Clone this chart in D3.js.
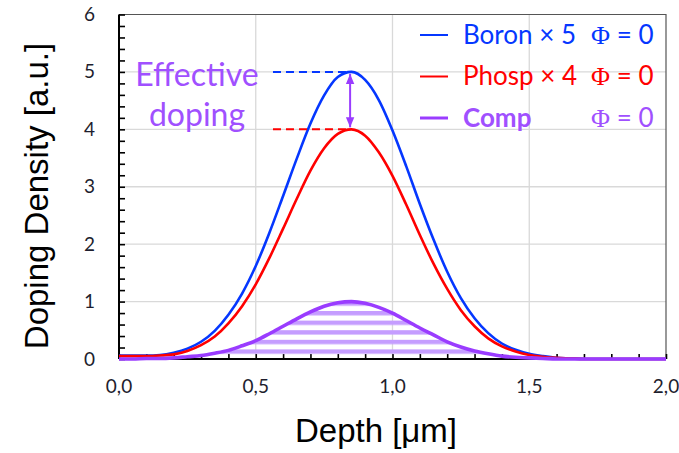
<!DOCTYPE html>
<html>
<head>
<meta charset="utf-8">
<script src="https://cdn.jsdelivr.net/npm/d3@7"></script>
<style>
body{margin:0;background:#fff}
svg{display:block}
</style>
</head>
<body>
<svg></svg>
<script>
let depth = [0.00,0.05,0.10,0.15,0.20,0.25,0.30,0.35,0.40,0.45,0.50,0.55,0.60,0.65,0.70,0.75,0.80,0.85,0.90,0.95,
             1.00,1.05,1.10,1.15,1.20,1.25,1.30,1.35,1.40,1.45,1.50,1.55,1.60,1.65,1.70,1.75,1.80,1.85,1.90,1.95,2.00];
let boron = [0.06,0.06,0.06,0.07,0.11,0.18,0.30,0.49,0.77,1.14,1.62,2.20,2.84,3.49,4.10,4.59,4.91,5.00,4.86,4.51,
             3.98,3.36,2.70,2.08,1.52,1.06,0.71,0.45,0.27,0.16,0.09,0.05,0.02,0.01,0,0,0,0,0,0,0];
let phosp = [0.05,0.05,0.05,0.06,0.08,0.14,0.24,0.39,0.62,0.92,1.30,1.76,2.27,2.79,3.28,3.67,3.92,4.00,3.89,3.60,
             3.19,2.69,2.16,1.66,1.22,0.85,0.57,0.36,0.22,0.13,0.07,0.04,0.02,0.01,0,0,0,0,0,0,0];
let comp  = [0.00,0.00,0.01,0.01,0.02,0.04,0.06,0.10,0.15,0.23,0.32,0.44,0.57,0.70,0.82,0.92,0.98,1.00,0.97,0.90,
             0.80,0.67,0.54,0.42,0.30,0.21,0.14,0.09,0.05,0.03,0.02,0.01,0,0,0,0,0,0,0,0,0];
let xTicks = [0,0.5,1,1.5,2];
let yTicks = [0,1,2,3,4,5,6];
let peakX = 0.845;
let dashStart = 0.563;

let width = 679;
let height = 453;
let plotL = 119, plotR = 666, plotT = 14.5, plotB = 359;
let blue = "#0537ff", red = "#ff0000", purple = "#9a3cff";
let svg = d3.select("svg").attr("width",width).attr("height",height);

let xScale = d3.scaleLinear().domain([0,2]).range([plotL,plotR]);
let yScale = d3.scaleLinear().domain([0,6]).range([plotB,plotT]);

// hatch pattern for the compensated area
let defs = svg.append("defs");
let pat = defs.append("pattern")
    .attr("id","hatch")
    .attr("patternUnits","userSpaceOnUse")
    .attr("x",0).attr("y",3.8)
    .attr("width",10).attr("height",9.6);
pat.append("rect").attr("width",10).attr("height",4.4).attr("fill","#c59dff");

defs.append("marker").attr("id","arrow")
    .attr("viewBox","0 0 10 10").attr("refX",10).attr("refY",5)
    .attr("markerWidth",10).attr("markerHeight",10)
    .attr("markerUnits","userSpaceOnUse")
    .attr("orient","auto-start-reverse")
    .append("path").attr("d","M0,0.8 L10,5 L0,9.2 Z").attr("fill",purple);

// grid
svg.append("g").selectAll("line").data(yTicks.slice(1,6)).join("line")
    .attr("x1",plotL).attr("x2",plotR)
    .attr("y1",d=>yScale(d)).attr("y2",d=>yScale(d))
    .attr("stroke","#d9d9d9").attr("stroke-width",1.3);
svg.append("g").selectAll("line").data(xTicks.slice(1,4)).join("line")
    .attr("x1",d=>xScale(d)).attr("x2",d=>xScale(d))
    .attr("y1",plotT).attr("y2",plotB)
    .attr("stroke","#d9d9d9").attr("stroke-width",1.3);

// frame top / right
svg.append("path")
    .attr("d",`M${plotL},${plotT}H${plotR}V${plotB}`)
    .attr("fill","none").attr("stroke","#555").attr("stroke-width",1.2);

// axes
let yAxis = d3.axisRight(yScale).ticks(30).tickSize(6).tickFormat("");
svg.append("g").attr("transform","translate("+plotL+",0)").call(yAxis)
    .call(g=>{g.select(".domain").attr("stroke","#000").attr("stroke-width",2).attr("d",`M0,${plotT}V${plotB}`);
              g.selectAll(".tick line").attr("stroke","#000").attr("stroke-width",1.6);});
let xAxis = d3.axisTop(xScale).tickValues(d3.range(0,21).map(i=>i/10)).tickSize(5).tickFormat("");
svg.append("g").attr("transform","translate(0,"+plotB+")").call(xAxis)
    .call(g=>{g.select(".domain").attr("stroke","#000").attr("stroke-width",2).attr("d",`M${plotL},0H${plotR}`);
              g.selectAll(".tick line").attr("stroke","#000").attr("stroke-width",1.6);});

// tick labels
svg.append("g").selectAll("text").data(yTicks).join("text")
    .attr("x",95).attr("y",d=>yScale(d)+6.5)
    .attr("text-anchor","end")
    .attr("font-family","Lato, 'Open Sans', sans-serif").attr("font-size",19)
    .attr("fill","#1e1e2e")
    .text(d=>d);
svg.append("g").selectAll("text").data(xTicks).join("text")
    .attr("x",d=>xScale(d)).attr("y",393)
    .attr("text-anchor","middle")
    .attr("font-family","Lato, 'Open Sans', sans-serif").attr("font-size",19)
    .attr("fill","#1e1e2e")
    .text(d=>d.toFixed(1).replace(".",","));

// axis titles
svg.append("text")
    .attr("transform","translate(48,196) rotate(-90)")
    .attr("text-anchor","middle")
    .attr("font-family","'Liberation Sans', Arial, sans-serif").attr("font-size",33)
    .text("Doping Density [a.u.]");
svg.append("text")
    .attr("x",376).attr("y",442)
    .attr("text-anchor","middle")
    .attr("font-family","'Liberation Sans', Arial, sans-serif").attr("font-size",33)
    .text("Depth [μm]");

// data
let pts = arr => depth.map((d,i)=>[d,arr[i]]);
let line = d3.line().x(d=>xScale(d[0])).y(d=>yScale(d[1])).curve(d3.curveMonotoneX);
let area = d3.area().x(d=>xScale(d[0])).y0(yScale(0)).y1(d=>yScale(d[1])).curve(d3.curveMonotoneX);

svg.append("path").attr("d",area(pts(comp))).attr("fill","url(#hatch)");
svg.append("path").attr("d",line(pts(boron))).attr("fill","none").attr("stroke",blue).attr("stroke-width",2.6);
svg.append("path").attr("d",line(pts(phosp))).attr("fill","none").attr("stroke",red).attr("stroke-width",2.6);
svg.append("path").attr("d",line(pts(comp))).attr("fill","none").attr("stroke",purple).attr("stroke-width",3.6);

// effective doping annotation
svg.append("line")
    .attr("x1",xScale(dashStart)).attr("x2",xScale(peakX))
    .attr("y1",yScale(5)).attr("y2",yScale(5))
    .attr("stroke",blue).attr("stroke-width",2).attr("stroke-dasharray","8,5");
svg.append("line")
    .attr("x1",xScale(dashStart)).attr("x2",xScale(peakX))
    .attr("y1",yScale(4)).attr("y2",yScale(4))
    .attr("stroke",red).attr("stroke-width",2).attr("stroke-dasharray","8,5");
svg.append("line")
    .attr("x1",xScale(peakX)).attr("x2",xScale(peakX))
    .attr("y1",yScale(5)+2).attr("y2",yScale(4)-2)
    .attr("stroke",purple).attr("stroke-width",2)
    .attr("marker-start","url(#arrow)").attr("marker-end","url(#arrow)");

let ann = svg.append("text")
    .attr("font-family","Lato, 'Open Sans', sans-serif").attr("font-size",32)
    .attr("fill","#a050ff").attr("text-anchor","middle");
ann.append("tspan").attr("x",197).attr("y",86).text("Effective");
ann.append("tspan").attr("x",197).attr("y",126).text("doping");

// legend
let legend = [
    {name:"Boron × 5", color:blue, bold:false},
    {name:"Phosp × 4", color:red, bold:false},
    {name:"Comp", color:purple, bold:true}
];
let lg = svg.append("g");
legend.forEach((d,i)=>{
    let y = 35 + i*41.5;
    lg.append("line").attr("x1",420).attr("x2",448).attr("y1",y).attr("y2",y)
        .attr("stroke",d.color).attr("stroke-width",d.bold?3:2);
    lg.append("text").attr("x",463).attr("y",y+8.5)
        .attr("font-family","Lato, 'Open Sans', sans-serif").attr("font-size",26)
        .attr("font-weight",d.bold?"bold":"normal")
        .attr("fill",d.bold?"#a050ff":d.color).text(d.name);
    let t = lg.append("text").attr("x",591).attr("y",y+8.5)
        .attr("font-size",26).attr("fill",d.bold?"#a050ff":d.color);
    t.append("tspan").attr("font-family","'Liberation Serif', serif").text("Φ");
    t.append("tspan").attr("font-family","Lato, 'Open Sans', sans-serif").text(" = 0");
});
</script>
</body>
</html>
